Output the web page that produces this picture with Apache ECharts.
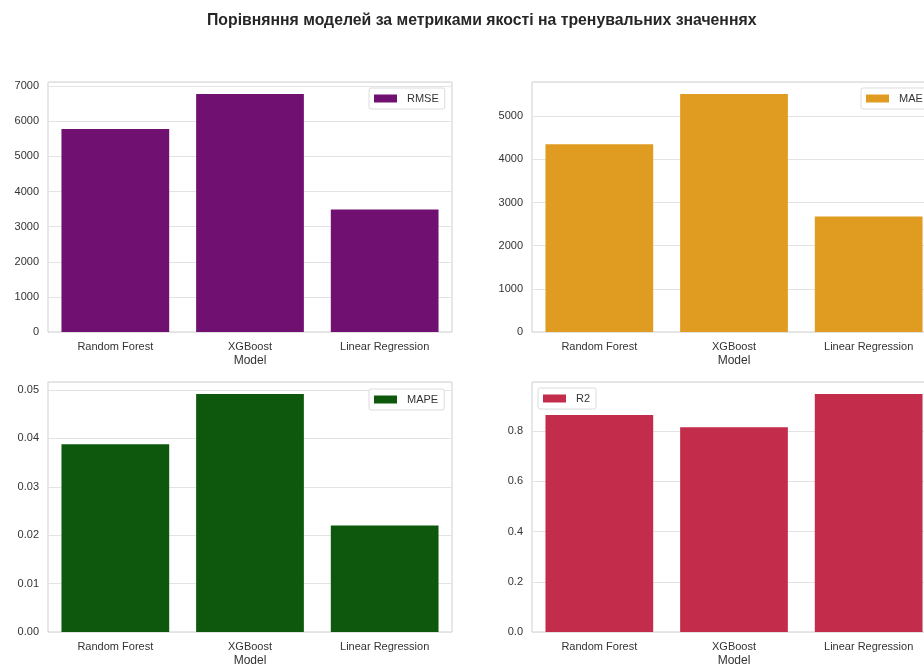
<!DOCTYPE html>
<html>
<head>
<meta charset="utf-8">
<script src="https://cdn.jsdelivr.net/npm/echarts@6/dist/echarts.min.js"></script>
<style>
  html, body { margin: 0; padding: 0; background: #fff; }
  #chart { width: 924px; height: 667px; }
</style>
</head>
<body>
<div id="chart"></div>
<script>
  // моделі та метрики
  const models = ['Random Forest', 'XGBoost', 'Linear Regression']
  const rmse = [5780, 6780, 3485]
  const mae = [4355, 5520, 2675]
  const mape = [0.0388, 0.0492, 0.0220]
  const r2 = [0.865, 0.816, 0.949]

  const font = 'Liberation Sans, Arial, sans-serif'
  const textColor = '#333'

  const panels = [
    { name: 'RMSE', data: rmse, color: '#701070', interval: 1000, digits: 0, left: 48, top: 82, legend: { left: 369, top: 88 } },
    { name: 'MAE', data: mae, color: '#df9c20', interval: 1000, digits: 0, left: 532, top: 82, legend: { left: 861, top: 88 } },
    { name: 'MAPE', data: mape, color: '#0d580d', interval: 0.01, digits: 2, left: 48, top: 382, legend: { left: 369, top: 389 } },
    { name: 'R2', data: r2, color: '#c32d4b', interval: 0.2, digits: 1, left: 532, top: 382, legend: { left: 538, top: 388 } }
  ]

  const chart = echarts.init(document.getElementById('chart'))

  chart.setOption({
    backgroundColor: '#fff',
    animation: false,
    title: {
      text: 'Порівняння моделей за метриками якості на тренувальних значеннях',
      left: 202,
      top: 8,
      textStyle: { fontFamily: font, fontSize: 15.8, fontWeight: 'bold', color: '#262626' }
    },
    grid: panels.map(p => ({
      left: p.left, top: p.top, width: 404, height: 250,
      outerBoundsMode: 'none',
      containLabel: false,
      show: true, borderColor: '#cfcfcf', borderWidth: 1, backgroundColor: 'transparent'
    })),
    legend: panels.map(p => ({
      data: [p.name],
      left: p.legend.left,
      top: p.legend.top,
      orient: 'vertical',
      itemWidth: 23,
      itemHeight: 8,
      itemGap: 0,
      padding: [5, 6, 5, 5],
      backgroundColor: '#fff',
      borderColor: '#dcdcdc',
      borderWidth: 1,
      borderRadius: 2,
      icon: 'rect',
      textStyle: { fontFamily: font, fontSize: 11, color: textColor, padding: [0, 0, 0, 5] }
    })),
    xAxis: panels.map((p, i) => ({
      type: 'category',
      gridIndex: i,
      data: models,
      name: 'Model',
      nameLocation: 'middle',
      nameGap: 23,
      nameTextStyle: { fontFamily: font, fontSize: 12, color: textColor },
      axisLine: { show: false },
      axisTick: { show: false },
      axisLabel: { fontFamily: font, fontSize: 11, color: textColor, margin: 9 }
    })),
    yAxis: panels.map((p, i) => ({
      type: 'value',
      gridIndex: i,
      min: 0,
      max: Math.max(...p.data) * 1.05,
      interval: p.interval,
      axisLine: { show: false },
      axisTick: { show: false },
      splitLine: { lineStyle: { color: '#e3e3e3', width: 1 } },
      axisLabel: {
        fontFamily: font, fontSize: 11, color: textColor, margin: 9,
        showMaxLabel: false,
        formatter: v => v.toFixed(p.digits)
      }
    })),
    series: panels.map((p, i) => ({
      name: p.name,
      type: 'bar',
      xAxisIndex: i,
      yAxisIndex: i,
      data: p.data,
      barCategoryGap: '20%',
      itemStyle: { color: p.color }
    }))
  })
</script>
</body>
</html>
